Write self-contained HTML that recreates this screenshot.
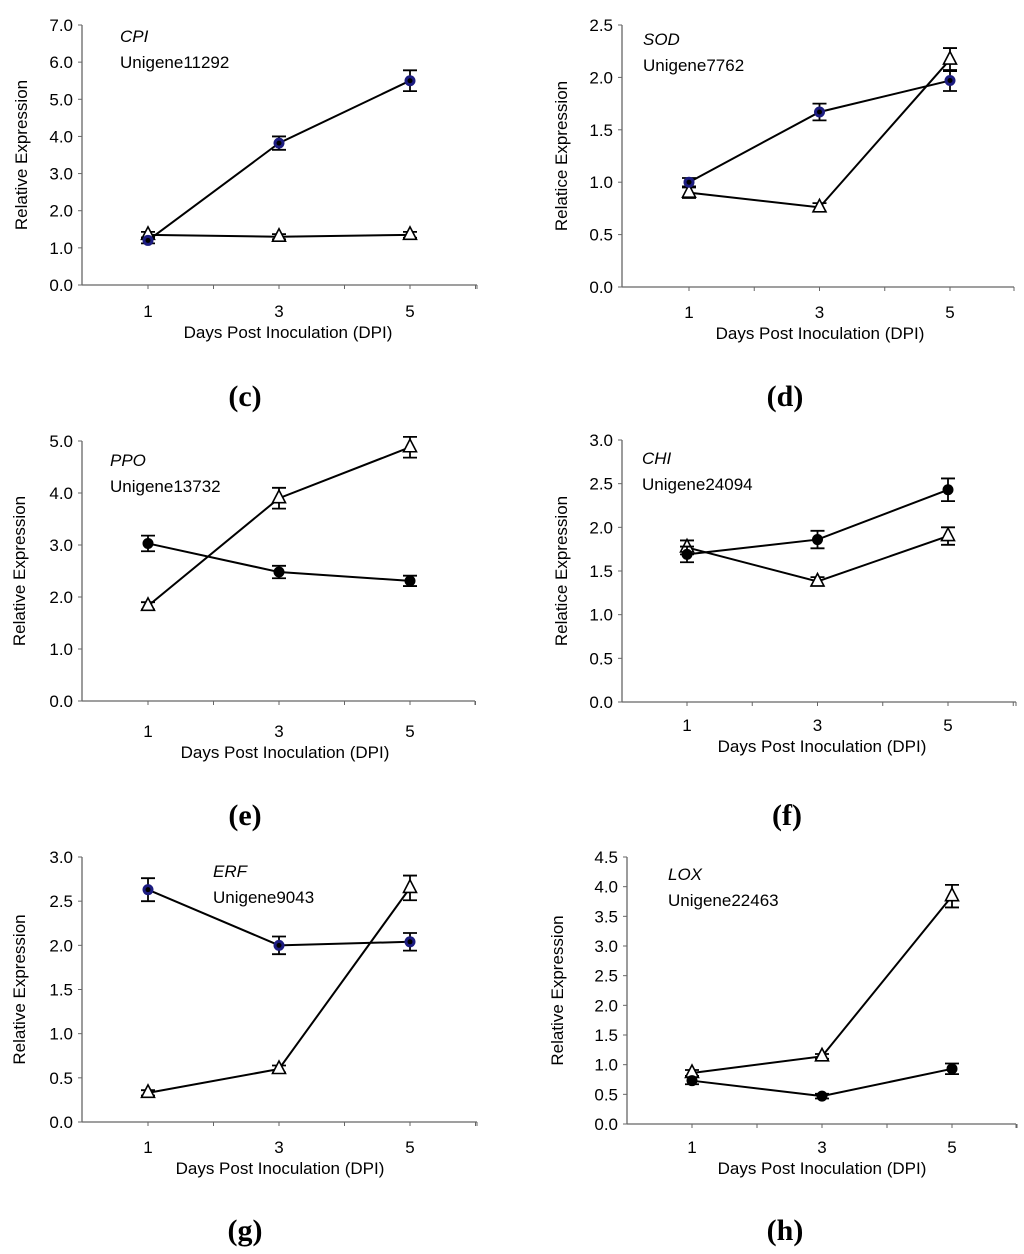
<!DOCTYPE html>
<html><head><meta charset="utf-8"><style>
body{margin:0;background:#fff}
svg{display:block}
text{font-family:"Liberation Sans",sans-serif;fill:#000}
</style></head><body>
<svg id="fig" width="1024" height="1254" viewBox="0 0 1024 1254" xmlns="http://www.w3.org/2000/svg"></svg>
<script>
const categories=[1,3,5];
const cCircle=[1.2,3.82,5.5], cCircleErr=[0.08,0.18,0.28], cTri=[1.35,1.3,1.35], cTriErr=[0.08,0.07,0.08];
const dCircle=[1.0,1.67,1.97], dCircleErr=[0.04,0.08,0.1], dTri=[0.9,0.76,2.17], dTriErr=[0.05,0.04,0.11];
const eCircle=[3.03,2.48,2.31], eCircleErr=[0.15,0.12,0.1], eTri=[1.83,3.9,4.88], eTriErr=[0.07,0.2,0.2];
const fCircle=[1.69,1.86,2.43], fCircleErr=[0.09,0.1,0.13], fTri=[1.77,1.38,1.9], fTriErr=[0.08,0.05,0.1];
const gCircle=[2.63,2.0,2.04], gCircleErr=[0.13,0.1,0.1], gTri=[0.33,0.6,2.65], gTriErr=[0.03,0.04,0.14];
const hCircle=[0.73,0.47,0.93], hCircleErr=[0.06,0.04,0.09], hTri=[0.86,1.14,3.84], hTriErr=[0.05,0.04,0.19];
const ticksC=[0,1,2,3,4,5,6,7], ticksD=[0,0.5,1,1.5,2,2.5], ticksE=[0,1,2,3,4,5], ticksF=[0,0.5,1,1.5,2,2.5,3], ticksG=[0,0.5,1,1.5,2,2.5,3], ticksH=[0,0.5,1,1.5,2,2.5,3,3.5,4,4.5];

const panels=[
 {id:'c',L:82,R:477,T:25,B:285,x1:148,x5:410,ticks:ticksC,circ:cCircle,ce:cCircleErr,tri:cTri,te:cTriErr,blue:true,gene:'CPI',uni:'Unigene11292',ax:120,ay:42,yt:'Relative Expression',ytx:22,xtx:288,xty:333,lab:[245,396]},
 {id:'d',L:622,R:1014,T:25,B:287,x1:689,x5:950,ticks:ticksD,circ:dCircle,ce:dCircleErr,tri:dTri,te:dTriErr,blue:true,gene:'SOD',uni:'Unigene7762',ax:643,ay:45,yt:'Relatice Expression',ytx:562,xtx:820,xty:334,lab:[785,396]},
 {id:'e',L:82,R:475,T:441,B:701,x1:148,x5:410,ticks:ticksE,circ:eCircle,ce:eCircleErr,tri:eTri,te:eTriErr,blue:false,gene:'PPO',uni:'Unigene13732',ax:110,ay:466,yt:'Relative Expression',ytx:20,xtx:285,xty:753,lab:[245,815]},
 {id:'f',L:622,R:1016,T:440,B:702,x1:687,x5:948,ticks:ticksF,circ:fCircle,ce:fCircleErr,tri:fTri,te:fTriErr,blue:false,gene:'CHI',uni:'Unigene24094',ax:642,ay:464,yt:'Relatice Expression',ytx:562,xtx:822,xty:747,lab:[787,815]},
 {id:'g',L:82,R:477,T:857,B:1122,x1:148,x5:410,ticks:ticksG,circ:gCircle,ce:gCircleErr,tri:gTri,te:gTriErr,blue:true,gene:'ERF',uni:'Unigene9043',ax:213,ay:877,yt:'Relative Expression',ytx:20,xtx:280,xty:1169,lab:[245,1230]},
 {id:'h',L:627,R:1016,T:857,B:1124,x1:692,x5:952,ticks:ticksH,circ:hCircle,ce:hCircleErr,tri:hTri,te:hTriErr,blue:false,gene:'LOX',uni:'Unigene22463',ax:668,ay:880,yt:'Relative Expression',ytx:558,xtx:822,xty:1169,lab:[785,1230]}
];
const NS='http://www.w3.org/2000/svg';
const svg=document.getElementById('fig');
function mk(tag,attrs,parent){const e=document.createElementNS(NS,tag);for(const k in attrs)e.setAttribute(k,attrs[k]);(parent||svg).appendChild(e);return e;}
panels.forEach(p=>{
 const g=mk('g',{});
 
 
 const ymax=p.ticks[p.ticks.length-1];
 const ys=v=>p.B-(v/ymax)*(p.B-p.T);
 const unit=(p.x5-p.x1)/4;
 const xs=d=>p.x1+(d-1)*unit;
 const ya=mk('line',{x1:p.L,y1:p.T,x2:p.L,y2:p.B,stroke:'#666','stroke-width':1.3},g);
 
 
 const xa=mk('line',{x1:p.L,y1:p.B,x2:p.R,y2:p.B,stroke:'#666','stroke-width':1.3},g);
 
 
 p.ticks.forEach(t=>{
  mk('line',{x1:p.L,y1:ys(t),x2:p.L-4,y2:ys(t),stroke:'#666'},g);
  const tl=mk('text',{x:p.L-9,y:ys(t)+6,'font-size':17,'text-anchor':'end'},g);
  tl.textContent=t.toFixed(1);
  
  
 });
 for(let d=1;d<=6;d++){const x=xs(d);if(x<=p.R+1)mk('line',{x1:x,y1:p.B,x2:x,y2:p.B+4,stroke:'#666'},g);}
 mk('line',{x1:p.R,y1:p.B,x2:p.R,y2:p.B+4,stroke:'#666'},g);
 categories.forEach(c=>{
  const tl=mk('text',{x:xs(c),y:p.xty-16,'font-size':17,'text-anchor':'middle'},g);
  tl.textContent=c;
  
  
 });
 const xt=mk('text',{x:p.xtx,y:p.xty+5,'font-size':17,'text-anchor':'middle'},g);
 xt.textContent='Days Post Inoculation (DPI)';
 
 
 const yc=(p.T+p.B)/2;
 const yt=mk('text',{x:p.ytx,y:yc,'font-size':17,'text-anchor':'middle',transform:`rotate(-90 ${p.ytx} ${yc})`,dy:5},g);
 yt.textContent=p.yt;
 
 
 const gn=mk('text',{x:p.ax,y:p.ay,'font-size':17,'font-style':'italic'},g);
 gn.textContent=p.gene;
 
 
 const un=mk('text',{x:p.ax,y:p.ay+26,'font-size':17},g);
 un.textContent=p.uni;
 
 
 const pl=mk('text',{x:p.lab[0],y:p.lab[1]+10,'font-size':30,'font-weight':'bold','text-anchor':'middle',style:'font-family:"Liberation Serif",serif'},g);
 pl.textContent='('+p.id+')';
 
 
 function series(vals,errs,kind){
  const pts=categories.map((c,i)=>xs(c)+','+ys(vals[i])).join(' ');
  const ln=mk('polyline',{points:pts,fill:'none',stroke:'#000','stroke-width':2},g);
  
  
  categories.forEach((c,i)=>{
   const x=xs(c),y=ys(vals[i]),e=(errs[i]/ymax)*(p.B-p.T);
   const eb=mk('path',{d:`M${x},${y-e}V${y+e}M${x-7},${y-e}H${x+7}M${x-7},${y+e}H${x+7}`,stroke:'#000','stroke-width':1.8,fill:'none'},g);
   
   
   let m;
   if(kind==='circle'){
    m=mk('circle',{cx:x,cy:y,r:5.5,fill:p.blue?'#1c1c80':'#000'},g);
    if(p.blue)mk('circle',{cx:x,cy:y,r:2.5,fill:'#000'},g);
   }else{
    m=mk('path',{d:`M${x},${y-8}L${x+6.5},${y+4.5}L${x-6.5},${y+4.5}Z`,fill:'#fff',stroke:'#000','stroke-width':1.6},g);
   }
   
   
  });
 }
 series(p.tri,p.te,'triangle');
 series(p.circ,p.ce,'circle');
});
</script>
</body></html>
